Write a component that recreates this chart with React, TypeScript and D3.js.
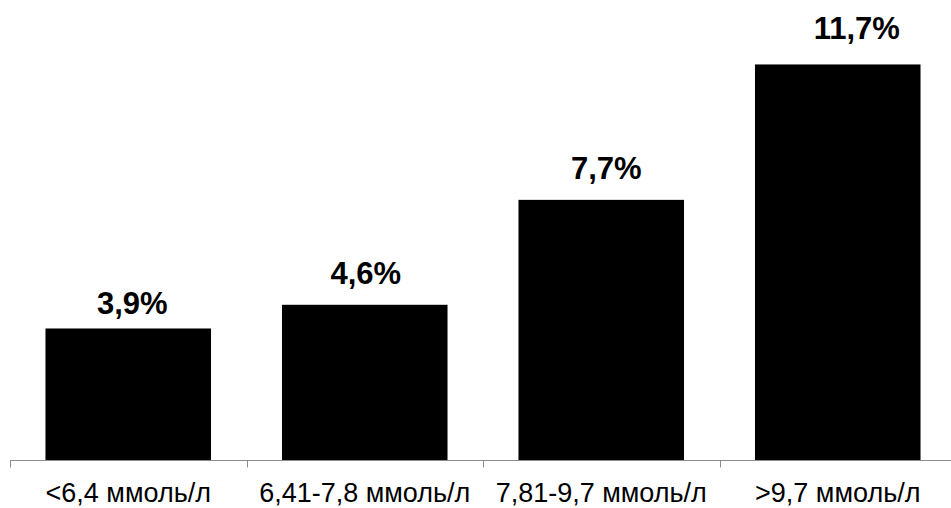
import React from "react";
import * as d3 from "d3";

// Glucose ranges and event rate (%) in each range
const categories = ["<6,4 ммоль/л", "6,41-7,8 ммоль/л", "7,81-9,7 ммоль/л", ">9,7 ммоль/л"];
const values = [3.9, 4.6, 7.7, 11.7];
const valueLabels = ["3,9%", "4,6%", "7,7%", "11,7%"];

// Small manual nudges for the value labels (dx, extra gap above the bar)
const labelDx = [4, 1, 5, 19];
const labelGap = [14, 21, 21, 25];

const W = 951;
const H = 508;

export default function App() {
  const x = d3
    .scaleBand<string>()
    .domain(categories)
    .range([10, 956])
    .paddingInner(0.3)
    .paddingOuter(0.15);

  const y = d3.scaleLinear().domain([0, 12]).range([460.5, 460.5 - 12 * 33.85]);

  const step = x.step();
  const tickXs = d3.range(categories.length + 1).map((i) => 10 + i * step);

  return (
    <svg
      width={W}
      height={H}
      style={{ position: "absolute", left: 0, top: 0, background: "#fff" }}
      fontFamily="'Liberation Sans', Arial, sans-serif"
    >
      {categories.map((c, i) => (
        <rect
          key={c}
          x={x(c)}
          y={y(values[i])}
          width={x.bandwidth()}
          height={y(0) - y(values[i])}
          fill="#000"
        />
      ))}
      <line x1={10} x2={W} y1={y(0)} y2={y(0)} stroke="#8c8c8c" strokeWidth={1} />
      {tickXs.map((tx, i) => (
        <line
          key={i}
          x1={Math.round(tx) + 0.5}
          x2={Math.round(tx) + 0.5}
          y1={y(0)}
          y2={y(0) + 7}
          stroke="#8c8c8c"
          strokeWidth={1}
        />
      ))}
      {categories.map((c, i) => (
        <text
          key={c}
          x={(x(c) as number) + x.bandwidth() / 2}
          y={502}
          textAnchor="middle"
          fontSize={27}
          fill="#000"
        >
          {c}
        </text>
      ))}
      {categories.map((c, i) => (
        <text
          key={c}
          x={(x(c) as number) + x.bandwidth() / 2 + labelDx[i]}
          y={y(values[i]) - labelGap[i]}
          textAnchor="middle"
          fontSize={31}
          fontWeight="bold"
          fill="#000"
        >
          {valueLabels[i]}
        </text>
      ))}
    </svg>
  );
}
